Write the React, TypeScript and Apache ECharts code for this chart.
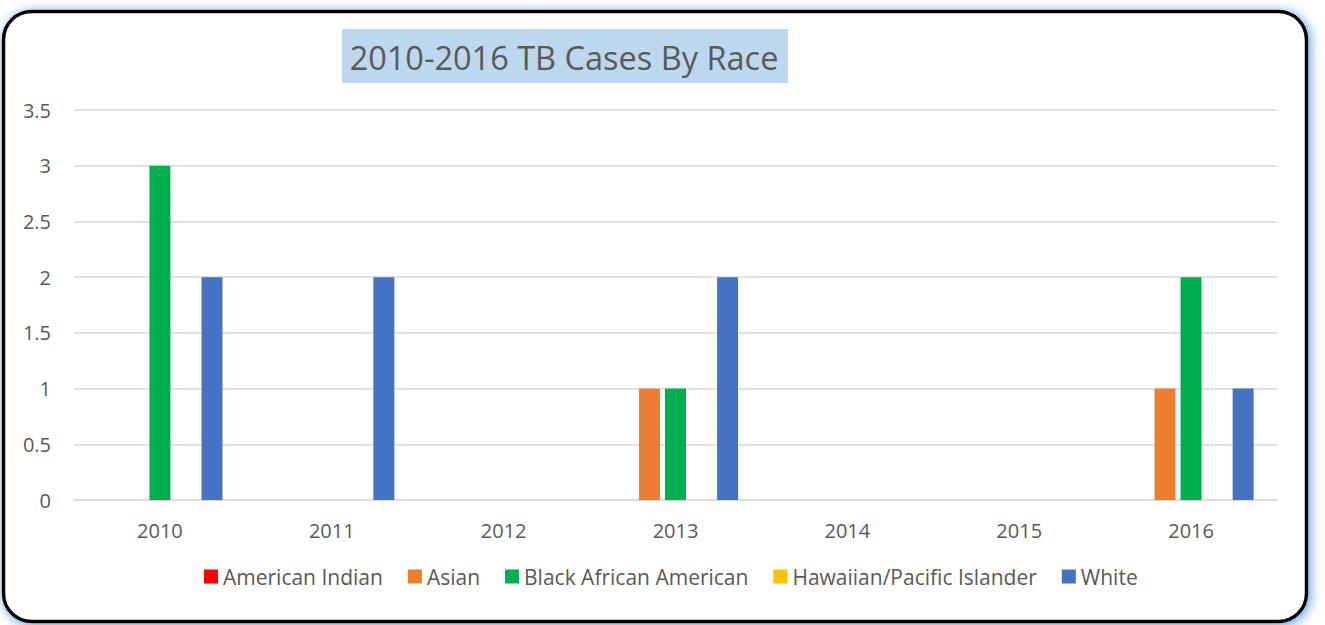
import React, { useEffect, useRef } from "react";
import * as echarts from "echarts";

const years = ["2010", "2011", "2012", "2013", "2014", "2015", "2016"];
const seriesNames = ["American Indian", "Asian", "Black African American", "Hawaiian/Pacific Islander", "White"];
const americanIndian = [0, 0, 0, 0, 0, 0, 0];
const asian = [0, 0, 0, 1, 0, 0, 1];
const blackAfricanAmerican = [3, 0, 0, 1, 0, 0, 2];
const hawaiianPacific = [0, 0, 0, 0, 0, 0, 0];
const white = [2, 2, 0, 2, 0, 0, 1];
const colors = ["#ff0000", "#ed7d31", "#00b050", "#ffc000", "#4472c4"];
const yTicks = { min: 0, max: 3.5, interval: 0.5 };

const FONT = "'Open Sans', 'Noto Sans', sans-serif";
const TEXT = "#595959";

export default function App() {
  const ref = useRef<HTMLDivElement>(null);
  useEffect(() => {
    if (!ref.current) return;
    const chart = echarts.init(ref.current, null, { renderer: "svg" });
    const dataSets = [americanIndian, asian, blackAfricanAmerican, hawaiianPacific, white];
    chart.setOption({
      animation: false,
      backgroundColor: "transparent",
      textStyle: { fontFamily: FONT },
      graphic: [
        {
          type: "rect",
          z: -10,
          shape: { x: 3.5, y: 11.5, width: 1303, height: 610, r: 28 },
          style: {
            fill: "#ffffff",
            stroke: "#000000",
            lineWidth: 3.5,
            shadowBlur: 12,
            shadowColor: "rgba(91,155,213,1)",
            shadowOffsetX: 2,
            shadowOffsetY: 2,
          },
        },
        {
          type: "rect",
          z: -5,
          shape: { x: 342, y: 29, width: 446, height: 54 },
          style: { fill: "#bdd7ee" },
        },
      ],
      title: {
        text: "2010-2016 TB Cases By Race",
        left: 564,
        top: 57,
        textAlign: "center",
        textVerticalAlign: "middle",
        textStyle: { fontFamily: FONT, fontSize: 32.5, fontWeight: "normal", color: TEXT },
        padding: 0,
      },
      color: colors,
      legend: {
        data: seriesNames,
        bottom: 33,
        left: 199,
        itemWidth: 14,
        itemHeight: 14,
        itemGap: 25,
        icon: "rect",
        textStyle: { fontFamily: FONT, fontSize: 21, color: TEXT },
      },
      grid: { left: 74, right: 48, top: 110, bottom: 125, containLabel: false },
      xAxis: {
        type: "category",
        data: years,
        axisLine: { lineStyle: { color: "#d9d9d9", width: 1.5 } },
        axisTick: { show: false },
        axisLabel: { fontFamily: FONT, fontSize: 20, color: TEXT, margin: 20 },
      },
      yAxis: {
        type: "value",
        min: yTicks.min,
        max: yTicks.max,
        interval: yTicks.interval,
        axisLine: { show: false },
        axisTick: { show: false },
        splitLine: { lineStyle: { color: "#d9d9d9", width: 1.5 } },
        axisLabel: { fontFamily: FONT, fontSize: 20, color: TEXT, margin: 23 },
      },
      series: seriesNames.map((name, i) => ({
        name,
        type: "bar",
        data: dataSets[i],
        barWidth: 21,
        barGap: "24%",
        itemStyle: { color: colors[i] },
      })),
    });
    return () => chart.dispose();
  }, []);
  return (
    <div
      ref={ref}
      style={{ position: "fixed", left: 0, top: 0, width: 1325, height: 625, background: "#ffffff" }}
    />
  );
}
